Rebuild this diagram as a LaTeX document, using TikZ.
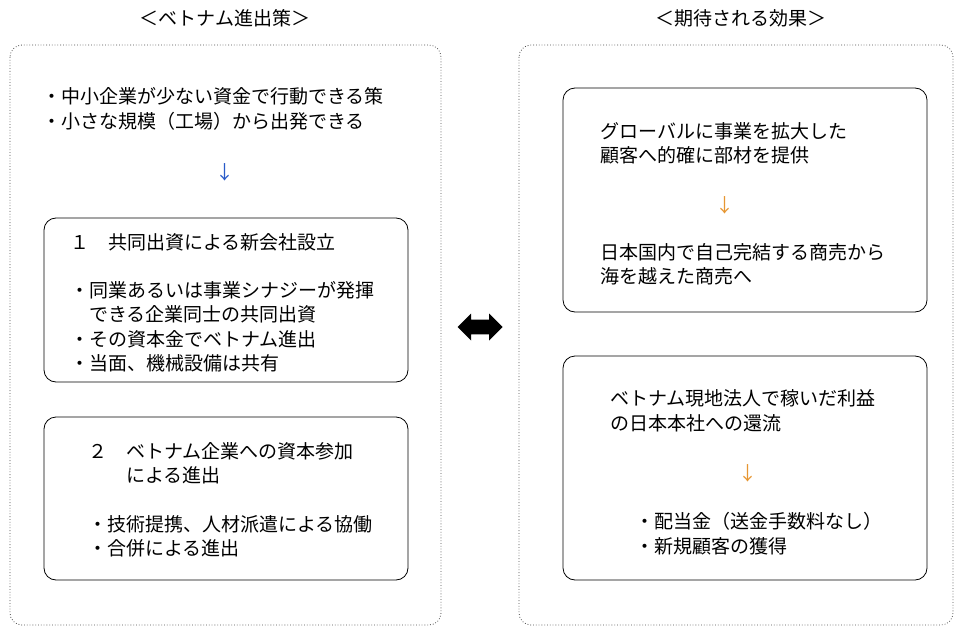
\documentclass[tikz,border=0pt]{standalone}
\usepackage{fontspec}
\setmainfont{Noto Sans CJK JP}
\usetikzlibrary{shapes.arrows}
\definecolor{arrblue}{RGB}{40,90,200}
\definecolor{arrorange}{RGB}{230,150,50}
\tikzset{
  outer/.style={draw=black!70, dotted, rounded corners=12pt, line width=0.8pt},
  inner/.style={draw=black, rounded corners=12pt, line width=0.8pt},
  txt/.style={anchor=west, inner sep=0pt, font=\fontsize{19}{23}\selectfont},
  ttl/.style={anchor=center, inner sep=0pt, font=\fontsize{19}{23}\selectfont},
}
\begin{document}
\begin{tikzpicture}[x=1pt,y=-1pt]
\useasboundingbox (0,0) rectangle (957,631);
\draw[outer] (10,45) rectangle (441,625);
\draw[outer] (519,45) rectangle (953,625);
\draw[inner] (44,218) rectangle (408,382);
\draw[inner] (44,417) rectangle (408,580);
\draw[inner] (563,88) rectangle (927,312);
\draw[inner] (563,356) rectangle (927,580);
\node[ttl] (t1) at (225,18) {＜ベトナム進出策＞};
\node[ttl] (t2) at (741,18) {＜期待される効果＞};
\node[double arrow, fill=black, minimum width=27pt, minimum height=45pt, double arrow head extend=6pt, inner sep=7pt, font=\fontsize{1}{1}\selectfont] (da) at (480,327) {};
\node[txt] (a1) at (42,96) {・中小企業が少ない資金で行動できる策};
\node[txt] (a2) at (42,121) {・小さな規模（工場）から出発できる};
\node[ttl, text=arrblue] (ad) at (225,172) {↓};
\node[txt] (b1) at (70,242) {１　共同出資による新会社設立};
\node[txt] (b2) at (70,290) {・同業あるいは事業シナジーが発揮};
\node[txt] (b3) at (70,314) {　できる企業同士の共同出資};
\node[txt] (b4) at (70,339) {・その資本金でベトナム進出};
\node[txt] (b5) at (70,363) {・当面、機械設備は共有};
\node[txt] (c1) at (88,451) {２　ベトナム企業への資本参加};
\node[txt] (c2) at (88,475) {　　による進出};
\node[txt] (c3) at (88,524) {・技術提携、人材派遣による協働};
\node[txt] (c4) at (88,548) {・合併による進出};
\node[txt] (d1) at (600,131) {グローバルに事業を拡大した};
\node[txt] (d2) at (600,155) {顧客へ的確に部材を提供};
\node[ttl, text=arrorange] (dd) at (725,205) {↓};
\node[txt] (d3) at (600,252) {日本国内で自己完結する商売から};
\node[txt] (d4) at (600,276) {海を越えた商売へ};
\node[txt] (e1) at (610,398) {ベトナム現地法人で稼いだ利益};
\node[txt] (e2) at (610,423) {の日本本社への還流};
\node[ttl, text=arrorange] (ed) at (748,473) {↓};
\node[txt] (e3) at (635,521) {・配当金（送金手数料なし）};
\node[txt] (e4) at (635,546) {・新規顧客の獲得};
\end{tikzpicture}
\end{document}
